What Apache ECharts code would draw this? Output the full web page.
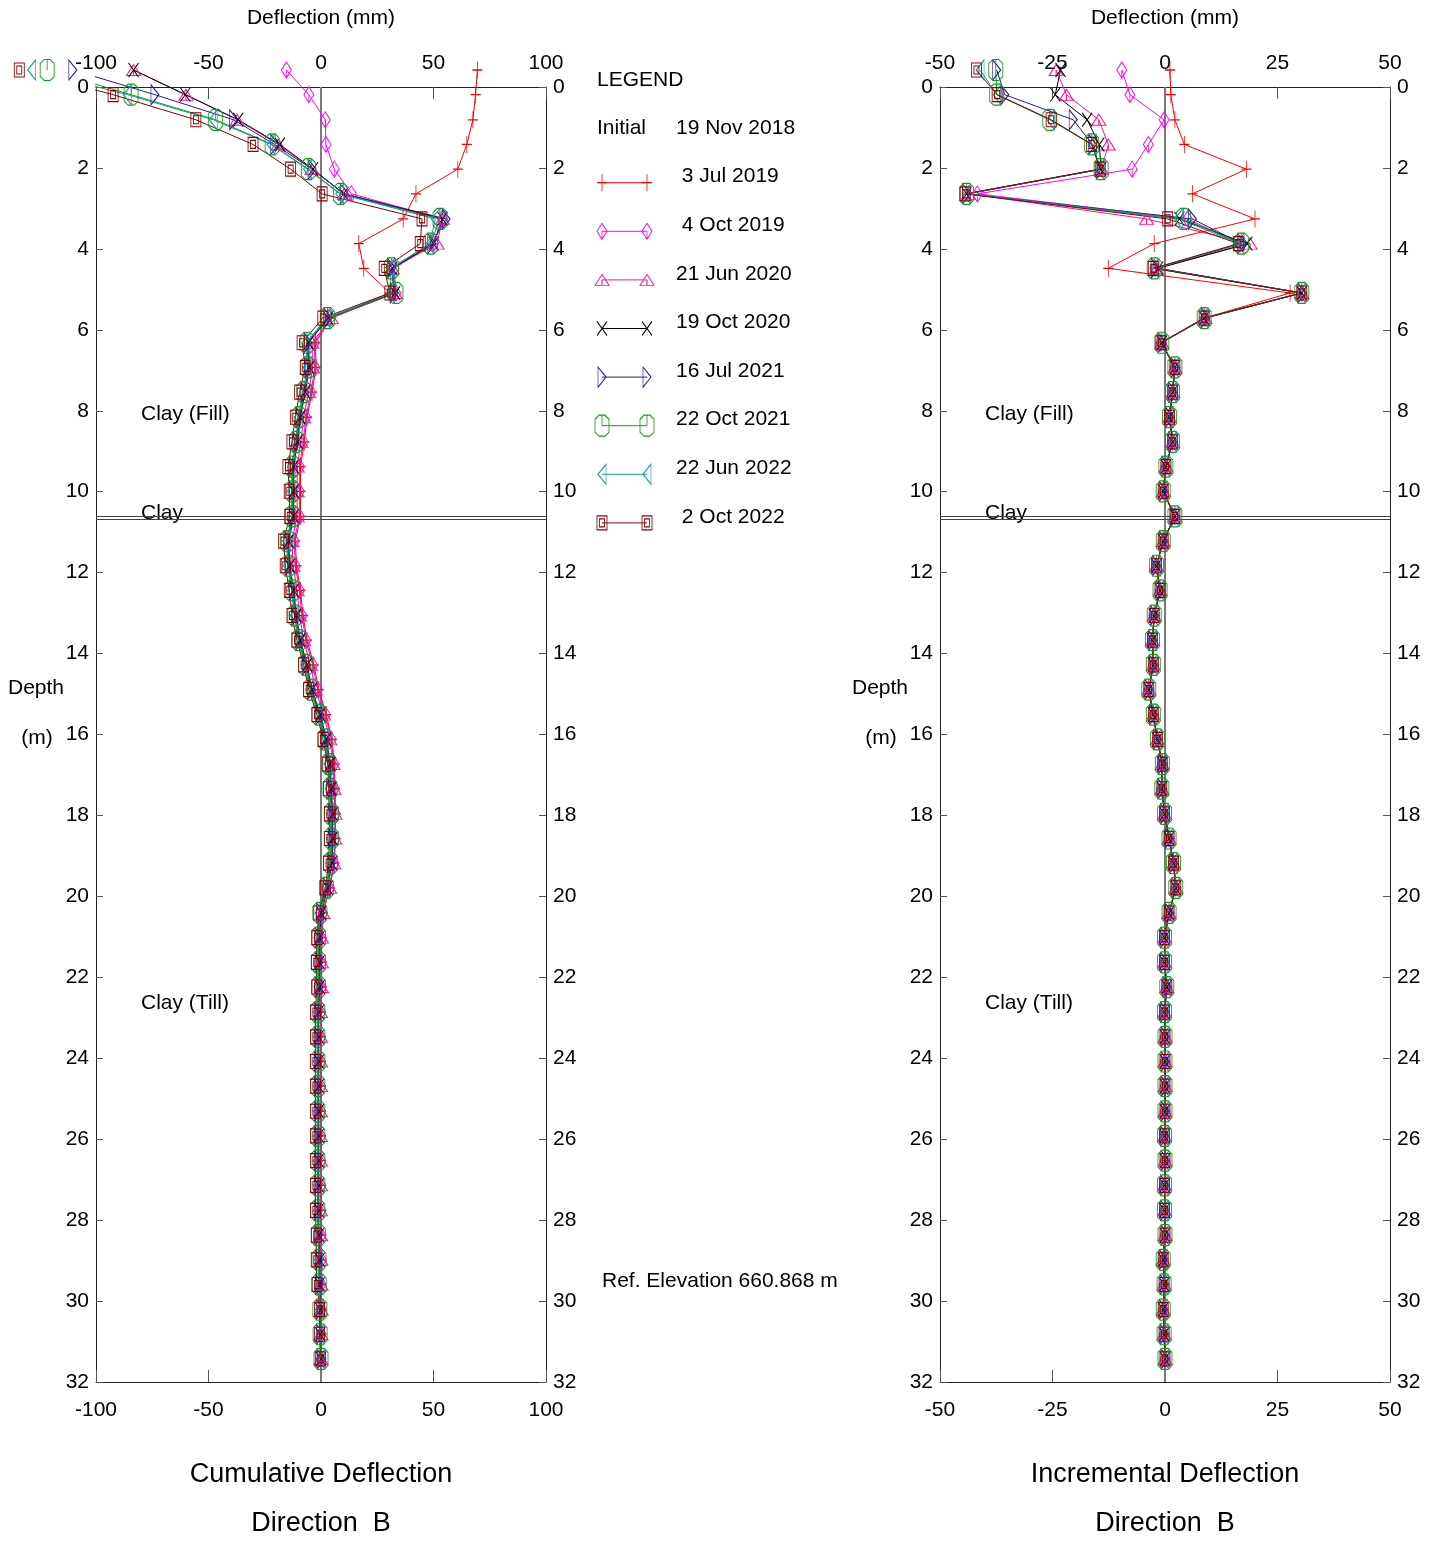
<!DOCTYPE html>
<html>
<head>
<meta charset="utf-8">
<title>Inclinometer - Direction B</title>
<script src="https://cdn.jsdelivr.net/npm/echarts@6/dist/echarts.min.js"></script>
<style>
  html, body { margin: 0; padding: 0; background: #fff; }
  #chart { width: 1437px; height: 1541px; }
</style>
</head>
<body>
<div id="chart"></div>
<script>
// reading depths (m), one every 2 ft
const depths = [-0.42, 0.19, 0.81, 1.42, 2.03, 2.64, 3.26, 3.87, 4.48, 5.09, 5.71, 6.32, 6.93, 7.54, 8.16, 8.77, 9.38, 9.99, 10.61, 11.22, 11.83, 12.44, 13.06, 13.67, 14.28, 14.89, 15.51, 16.12, 16.73, 17.34, 17.96, 18.57, 19.18, 19.79, 20.41, 21.02, 21.63, 22.24, 22.86, 23.47, 24.08, 24.69, 25.31, 25.92, 26.53, 27.14, 27.76, 28.37, 28.98, 29.59, 30.21, 30.82, 31.43];

const surveyDates = ['3 Jul 2019', '4 Oct 2019', '21 Jun 2020', '19 Oct 2020', '16 Jul 2021', '22 Oct 2021', '22 Jun 2022', '2 Oct 2022'];
const initialDate = '19 Nov 2018';
const refElevation = 'Ref. Elevation 660.868 m';
const layerBoundary = [10.6, 10.68];

// cumulative deflection (mm)
const cum3Jul2019 = [69.5, 68.7, 67.5, 64.8, 60.8, 42.2, 36.5, 16.8, 19.0, 30.6, 4.5, -2.5, -2.2, -4.0, -6.2, -7.4, -9.1, -9.1, -9.1, -11.4, -10.9, -9.1, -8.0, -6.2, -3.2, -1.0, 2.4, 4.8, 6.0, 6.2, 6.5, 6.4, 5.9, 3.9, 0.9, 0.3, 0.3, 0.2, -0.1, -0.1, -0.1, -0.1, 0.0, 0.0, 0.0, 0.0, 0.1, 0.1, 0.2, 0.2, 0.2, 0.1, 0.0];
const cum4Oct2019 = [-15.4, -5.4, 1.9, 2.2, 5.9, 13.5, 54.0, 50.0, 32.5, 33.3, 4.0, -3.0, -2.7, -4.5, -6.7, -7.9, -9.6, -9.6, -9.6, -11.9, -11.4, -9.6, -8.5, -6.7, -3.7, -1.5, 2.0, 4.5, 5.8, 6.0, 6.4, 6.3, 5.8, 3.8, 0.8, 0.2, 0.2, 0.2, -0.1, -0.1, -0.1, -0.1, -0.1, -0.1, 0.0, 0.0, 0.0, 0.0, 0.2, 0.1, 0.2, 0.1, 0.0];
const cum21Jun2020 = [-83.3, -60.0, -37.3, -19.0, -4.0, 10.3, 54.0, 51.6, 31.7, 33.0, 4.5, -4.0, -3.7, -5.5, -7.7, -8.9, -10.6, -10.6, -10.6, -12.9, -12.4, -10.6, -9.5, -7.7, -4.7, -2.5, 1.2, 3.9, 5.4, 5.8, 6.2, 6.1, 5.7, 3.8, 0.9, 0.2, 0.2, 0.2, -0.2, -0.2, -0.2, -0.2, -0.2, -0.2, -0.2, -0.2, -0.2, -0.2, 0.0, 0.0, 0.1, 0.0, 0.0];
const cum19Oct2020 = [-83.3, -60.3, -36.8, -18.3, -3.5, 10.0, 54.0, 50.0, 31.7, 33.0, 3.2, -5.5, -5.2, -7.0, -9.2, -10.4, -12.1, -12.1, -12.1, -14.4, -13.9, -12.1, -11.0, -9.2, -6.2, -4.0, -0.3, 2.4, 4.1, 4.6, 5.2, 5.2, 4.9, 3.0, 0.1, -0.6, -0.6, -0.6, -1.0, -1.0, -1.0, -1.0, -1.0, -1.0, -1.0, -1.0, -1.0, -0.9, -0.6, -0.6, -0.3, -0.3, 0.0];
const cum16Jul2021 = [-110.3, -73.8, -38.9, -20.6, -4.0, 10.3, 55.6, 49.2, 31.3, 32.5, 2.9, -5.8, -5.5, -7.3, -9.5, -10.7, -12.4, -12.4, -12.4, -14.7, -14.2, -12.4, -11.3, -9.5, -6.5, -4.3, -0.6, 2.1, 3.8, 4.3, 4.9, 4.9, 4.6, 2.7, -0.2, -0.9, -0.9, -0.9, -1.2, -1.2, -1.2, -1.2, -1.2, -1.2, -1.2, -1.2, -1.2, -1.1, -0.8, -0.7, -0.4, -0.3, 0.0];
const cum22Oct2021 = [-121.7, -84.4, -46.8, -21.7, -5.6, 8.7, 52.9, 48.7, 31.3, 33.3, 2.9, -6.2, -5.8, -7.6, -9.8, -11.0, -12.7, -12.7, -12.7, -15.0, -14.5, -12.7, -11.6, -9.8, -6.8, -4.6, -0.9, 1.8, 3.5, 4.0, 4.6, 4.6, 4.3, 2.4, -0.5, -1.1, -1.1, -1.1, -1.4, -1.4, -1.4, -1.4, -1.4, -1.4, -1.4, -1.4, -1.4, -1.2, -0.9, -0.8, -0.5, -0.4, 0.0];
const cum22Jun2022 = [-128.6, -86.0, -47.9, -22.2, -6.0, 8.3, 50.8, 48.4, 31.0, 31.0, 2.4, -6.6, -6.1, -7.9, -10.1, -11.3, -13.0, -13.0, -13.0, -15.3, -14.8, -13.0, -11.9, -10.1, -7.1, -4.9, -1.2, 1.5, 3.2, 3.7, 4.3, 4.3, 4.0, 2.1, -0.8, -1.4, -1.4, -1.4, -1.7, -1.7, -1.7, -1.7, -1.7, -1.7, -1.7, -1.6, -1.6, -1.4, -1.1, -0.9, -0.6, -0.4, 0.0];
const cum2Oct2022 = [-134.1, -92.4, -55.6, -30.2, -13.5, 0.5, 44.9, 44.1, 28.1, 30.6, 0.8, -8.4, -7.0, -9.5, -11.4, -12.9, -14.7, -14.1, -13.9, -16.6, -15.9, -14.1, -12.9, -10.7, -7.7, -5.5, -1.8, 0.9, 3.0, 3.4, 3.7, 3.7, 3.4, 1.9, -1.0, -1.8, -2.1, -1.8, -2.5, -2.5, -2.5, -2.5, -2.5, -2.5, -2.5, -2.5, -2.5, -2.1, -2.1, -1.8, -0.6, -0.6, -0.3];

// incremental deflection (mm)
const inc3Jul2019 = [1.1, 1.3, 2.2, 4.3, 18.1, 6.1, 20.0, -2.4, -12.6, 27.8, 8.7, -0.9, 2.2, 1.7, 1.0, 1.7, 0.2, -0.4, 2.2, -0.4, -1.9, -1.1, -2.4, -2.8, -2.6, -3.6, -2.6, -1.7, -0.6, -0.7, -0.1, 0.9, 1.9, 2.4, 0.9, -0.1, -0.1, 0.4, -0.1, 0.0, 0.0, 0.0, 0.0, -0.1, 0.0, -0.1, -0.1, 0.0, -0.4, -0.2, -0.4, -0.2, 0.0];
const inc4Oct2019 = [-9.6, -7.8, -0.2, -3.7, -7.3, -41.7, 5.0, 16.7, -2.2, 30.4, 8.9, -0.9, 2.2, 1.7, 1.0, 1.7, 0.2, -0.4, 2.2, -0.4, -1.9, -1.1, -2.4, -2.8, -2.6, -3.6, -2.6, -1.7, -0.6, -0.7, -0.1, 0.9, 1.9, 2.4, 0.9, -0.1, -0.1, 0.4, -0.1, 0.0, 0.0, 0.0, 0.0, -0.1, 0.0, -0.1, -0.1, 0.0, -0.4, -0.2, -0.4, -0.2, 0.0];
const inc21Jun2020 = [-24.2, -21.9, -14.7, -12.6, -14.1, -43.7, -4.1, 18.9, -1.9, 30.4, 8.9, -0.7, 2.2, 1.7, 1.0, 1.7, 0.2, -0.4, 2.2, -0.4, -1.9, -1.1, -2.4, -2.8, -2.6, -3.6, -2.6, -1.7, -0.6, -0.7, -0.1, 0.9, 1.9, 2.4, 0.9, -0.1, -0.1, 0.4, -0.1, 0.0, 0.0, 0.0, 0.0, -0.1, 0.0, -0.1, -0.1, 0.0, -0.4, -0.2, -0.4, -0.2, 0.0];
const inc19Oct2020 = [-23.2, -24.4, -17.3, -14.6, -14.2, -44.1, 3.2, 18.3, -1.5, 30.4, 8.7, -0.7, 2.2, 1.7, 1.0, 1.7, 0.2, -0.4, 2.2, -0.4, -1.9, -1.1, -2.4, -2.8, -2.6, -3.6, -2.6, -1.7, -0.6, -0.7, -0.1, 0.9, 1.9, 2.4, 0.9, -0.1, -0.1, 0.4, -0.1, 0.0, 0.0, 0.0, 0.0, -0.1, 0.0, -0.1, -0.1, 0.0, -0.4, -0.2, -0.4, -0.2, 0.0];
const inc16Jul2021 = [-37.4, -35.6, -20.4, -16.1, -14.4, -44.1, 6.1, 17.0, -2.2, 30.4, 8.9, -0.7, 2.2, 1.7, 1.0, 1.7, 0.2, -0.4, 2.2, -0.4, -1.9, -1.1, -2.4, -2.8, -2.6, -3.6, -2.6, -1.7, -0.6, -0.7, -0.1, 0.9, 1.9, 2.4, 0.9, -0.1, -0.1, 0.4, -0.1, 0.0, 0.0, 0.0, 0.0, -0.1, 0.0, -0.1, -0.1, 0.0, -0.4, -0.2, -0.4, -0.2, 0.0];
const inc22Oct2021 = [-37.6, -37.4, -25.6, -16.3, -14.2, -44.1, 4.1, 17.0, -2.4, 30.4, 8.7, -0.7, 2.2, 1.7, 1.0, 1.7, 0.2, -0.4, 2.2, -0.4, -1.9, -1.1, -2.4, -2.8, -2.6, -3.6, -2.6, -1.7, -0.6, -0.7, -0.1, 0.9, 1.9, 2.4, 0.9, -0.1, -0.1, 0.4, -0.1, 0.0, 0.0, 0.0, 0.0, -0.1, 0.0, -0.1, -0.1, 0.0, -0.4, -0.2, -0.4, -0.2, 0.0];
const inc22Jun2022 = [-41.1, -37.3, -25.4, -16.1, -14.4, -44.1, 3.0, 16.7, -2.2, 30.4, 8.7, -0.7, 2.2, 1.7, 1.0, 1.7, 0.2, -0.4, 2.2, -0.4, -1.9, -1.1, -2.4, -2.8, -2.6, -3.6, -2.6, -1.7, -0.6, -0.7, -0.1, 0.9, 1.9, 2.4, 0.9, -0.1, -0.1, 0.4, -0.1, 0.0, 0.0, 0.0, 0.0, -0.1, 0.0, -0.1, -0.1, 0.0, -0.4, -0.2, -0.4, -0.2, 0.0];
const inc2Oct2022 = [-41.9, -37.3, -25.3, -16.3, -14.4, -44.4, 0.6, 16.3, -2.6, 30.4, 8.7, -0.9, 2.2, 1.7, 1.0, 1.7, 0.2, -0.4, 2.2, -0.4, -1.9, -1.1, -2.4, -2.8, -2.6, -3.6, -2.6, -1.7, -0.6, -0.7, -0.1, 0.9, 1.9, 2.4, 0.9, -0.1, -0.1, 0.4, -0.1, 0.0, 0.0, 0.0, 0.0, -0.1, 0.0, -0.1, -0.1, 0.0, -0.4, -0.2, -0.4, -0.2, 0.0];

const cumulative = [cum3Jul2019, cum4Oct2019, cum21Jun2020, cum19Oct2020, cum16Jul2021, cum22Oct2021, cum22Jun2022, cum2Oct2022];
const incremental = [inc3Jul2019, inc4Oct2019, inc21Jun2020, inc19Oct2020, inc16Jul2021, inc22Oct2021, inc22Jun2022, inc2Oct2022];

const FONT = '"Liberation Sans", Arial, sans-serif';

// marker per survey (open outlines like the plotting package)
const styles = [
  {color: '#ff0000', symbol: 'path://M5,0V17M0,8.5H10', size: [10, 17]},
  {color: '#ff00ff', symbol: 'path://M5,0L10,8L5,16L0,8ZM5,8V16', size: [10, 16]},
  {color: '#ff1493', symbol: 'path://M0,11L7,0L14,11ZM7,5.5V11', size: [14, 11]},
  {color: '#000000', symbol: 'path://M0,0L10,14M10,0L0,14', size: [10, 14]},
  {color: '#1f1f9e', symbol: 'path://M0,0L8,10L0,20Z', size: [8, 20]},
  {color: '#139a13', symbol: 'path://M4,0H10L14,4V17L10,21H4L0,17V4ZM7,0V10.5', size: [14, 21]},
  {color: '#169a9a', symbol: 'path://M8,0L0,10L8,20Z', size: [8, 20]},
  {color: '#8b0000', symbol: 'path://M0,0H10V14H0ZM2.5,3H7.5V11H2.5Z', size: [10, 14]}
];

function plotAxes(gi, lim, step) {
  const line = {show: true, onZero: false, lineStyle: {color: '#222', width: 1}};
  const lab = {fontFamily: FONT, fontSize: 21, color: '#000'};
  const tick = len => ({show: true, inside: true, length: len, lineStyle: {color: '#555', width: 1}});
  const x = (pos, margin) => ({
    type: 'value', gridIndex: gi, position: pos, min: -lim, max: lim, interval: step,
    axisLine: line, axisTick: tick(12), splitLine: {show: false},
    axisLabel: Object.assign({margin: margin}, lab)
  });
  const y = pos => ({
    type: 'value', gridIndex: gi, position: pos, inverse: true, min: 0, max: 32, interval: 2,
    axisLine: line, axisTick: tick(7), splitLine: {show: false},
    axisLabel: Object.assign({margin: 7, padding: [0, 0, 8, 0]}, lab)
  });
  return {x: [x('top', 13), x('bottom', 18)], y: [y('left'), y('right')]};
}

const left = plotAxes(0, 100, 50);
const right = plotAxes(1, 50, 25);

const guideLines = {
  silent: true, symbol: 'none', z: 1, animation: false, label: {show: false},
  data: [
    {xAxis: 0, lineStyle: {color: '#7a7a7a', width: 2, type: 'solid'}},
    {yAxis: layerBoundary[0], lineStyle: {color: '#444', width: 1, type: 'solid'}},
    {yAxis: layerBoundary[1], lineStyle: {color: '#444', width: 1, type: 'solid'}}
  ]
};

function profileSeries(values, i, axisIdx) {
  const s = styles[i];
  const out = {
    name: surveyDates[i], type: 'line', xAxisIndex: axisIdx, yAxisIndex: axisIdx,
    data: depths.map((d, k) => [values[k], d]),
    clip: false, symbol: s.symbol, symbolSize: s.size, showAllSymbol: true,
    lineStyle: {color: s.color, width: 1},
    itemStyle: {color: 'rgba(0,0,0,0)', borderColor: s.color, borderWidth: 1},
    emphasis: {disabled: true}, animation: false
  };
  if (i === 0) out.markLine = guideLines;
  return out;
}

const series = [];
cumulative.forEach((v, i) => series.push(profileSeries(v, i, 0)));
incremental.forEach((v, i) => series.push(profileSeries(v, i, 2)));

// legend samples: a short line with the marker at both ends
surveyDates.forEach((d, i) => {
  const s = styles[i];
  series.push({
    type: 'line', xAxisIndex: 4, yAxisIndex: 4, data: [[0, i], [1, i]],
    symbol: s.symbol, symbolSize: s.size, clip: false, silent: true,
    lineStyle: {color: s.color, width: 1},
    itemStyle: {color: 'rgba(0,0,0,0)', borderColor: s.color, borderWidth: 1},
    animation: false
  });
});

const txt = (t, x, y, size, align) => ({
  type: 'text', x: x, y: y, silent: true,
  style: {text: t, font: size + 'px ' + FONT, fill: '#000', align: align || 'center', verticalAlign: 'middle'}
});

const graphics = [
  txt('Deflection (mm)', 321, 18, 21),
  txt('Deflection (mm)', 1165, 18, 21),
  txt('Cumulative Deflection', 321, 1475, 27),
  txt('Direction  B', 321, 1524, 27),
  txt('Incremental Deflection', 1165, 1475, 27),
  txt('Direction  B', 1165, 1524, 27),
  txt('Depth', 36, 688, 21),
  txt('(m)', 37, 738, 21),
  txt('Depth', 880, 688, 21),
  txt('(m)', 881, 738, 21),
  txt('LEGEND', 597, 80, 21, 'left'),
  txt('Initial', 597, 128, 21, 'left'),
  txt(initialDate, 676, 128, 21, 'left'),
  txt(refElevation, 602, 1281, 21, 'left')
];
[141, 985].forEach(x0 => {
  graphics.push(txt('Clay (Fill)', x0, 414, 21, 'left'));
  graphics.push(txt('Clay', x0, 513, 21, 'left'));
  graphics.push(txt('Clay (Till)', x0, 1003, 21, 'left'));
});
surveyDates.forEach((d, i) => {
  graphics.push(txt(d.padStart(11), 676, 176.7 + 48.6 * i, 21, 'left'));
});

const chart = echarts.init(document.getElementById('chart'));
chart.setOption({
  backgroundColor: '#ffffff',
  animation: false,
  grid: [
    {left: 96, top: 87, width: 450, height: 1295},
    {left: 940, top: 87, width: 450, height: 1295},
    {left: 602, top: 182.7, width: 45, height: 340.2}
  ],
  xAxis: [
    left.x[0], left.x[1], right.x[0], right.x[1],
    {type: 'value', gridIndex: 2, min: 0, max: 1, show: false}
  ],
  yAxis: [
    left.y[0], left.y[1], right.y[0], right.y[1],
    {type: 'value', gridIndex: 2, min: 0, max: 7, inverse: true, show: false}
  ],
  series: series,
  graphic: graphics
});
</script>
</body>
</html>
